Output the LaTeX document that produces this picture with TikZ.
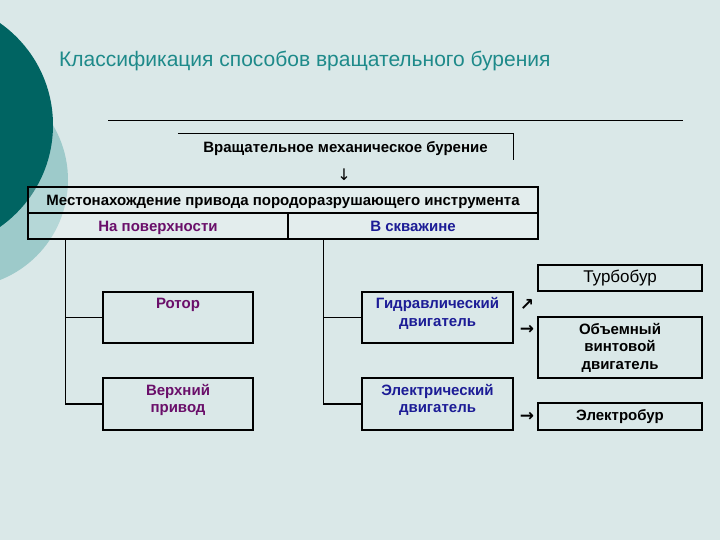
\documentclass[tikz,border=0pt]{standalone}
\usepackage{fontspec}
\setmainfont{Liberation Sans}
\newfontfamily\symfont{DejaVu Sans}
\usetikzlibrary{calc}
\definecolor{bgc}{HTML}{DAE8E8}
\definecolor{darkc}{HTML}{006462}
\definecolor{lightc}{HTML}{9DCACA}
\definecolor{titlec}{HTML}{1E8A8A}
\definecolor{purp}{HTML}{6A0F6A}
\definecolor{blu}{HTML}{1C1C96}
\tikzset{
  box/.style={draw=black, line width=1.2pt, inner sep=0pt, align=center,
    font=\bfseries\fontsize{15}{17.5}\selectfont},
  tbl/.style={box, fill=white, fill opacity=0.25, text opacity=1, text height=10.8pt, text depth=0pt},
  conn/.style={draw=black, line width=1.1pt},
  glyph/.style={inner sep=0pt, font=\symfont\bfseries\fontsize{17}{17}\selectfont},
  inlabel/.style={inner sep=0pt, align=center, font=\bfseries\fontsize{15}{17.5}\selectfont}
}
\begin{document}
\begin{tikzpicture}[x=1pt,y=-1pt]
\useasboundingbox (0,0) rectangle (720,540);
\fill[bgc] (0,0) rectangle (720,540);
\fill[lightc] (-39.5,180) circle (107.5pt);
\fill[darkc] (-71.5,125) circle (124.5pt);

% title
\node[anchor=base west, inner sep=0pt, text=titlec, font=\fontsize{21}{24}\selectfont] (title) at (59,67) {Классификация способов вращательного бурения};

% horizontal rule
\coordinate (hl1) at (108,120);
\coordinate (hl2) at (683,120);
\draw[line width=0.9pt] (hl1) -- (hl2);

% top partial box
\node[inlabel, minimum width=335pt, minimum height=26pt, text height=10.8pt, text depth=0pt] (mech) at (345.5,147) {Вращательное механическое бурение};
\draw[line width=1.2pt] (mech.north west) -- (mech.north east) -- (mech.south east);

\node[inner sep=0pt, font=\symfont\fontsize{16}{16}\selectfont] (down) at (344,175) {↓};

% location table
\node[tbl, minimum width=510pt, minimum height=26pt] (loc) at (283,200) {Местонахождение привода породоразрушающего инструмента};
\node[tbl, minimum width=260pt, minimum height=26pt, text=purp] (surf) at (158,226) {На поверхности};
\node[tbl, minimum width=250pt, minimum height=26pt, text=blu] (well) at (413,226) {В скважине};

% left branch
\node[box, minimum width=150pt, minimum height=51pt,
  label={[inlabel, text=purp, yshift=12.5pt]center:Ротор}] (rotor) at (178,317.5) {};
\node[box, minimum width=150pt, minimum height=52pt,
  label={[inlabel, text=purp, yshift=4pt]center:Верхний\\привод}] (top) at (178,404) {};

% right branch
\node[box, minimum width=151pt, minimum height=51pt,
  label={[inlabel, text=blu, yshift=4pt]center:Гидравлический\\двигатель}] (hyd) at (437.5,317.5) {};
\node[box, minimum width=151pt, minimum height=52pt,
  label={[inlabel, text=blu, yshift=4pt]center:Электрический\\двигатель}] (el) at (437.5,404) {};

% far right
\node[box, minimum width=164pt, minimum height=26pt, font=\fontsize{17}{19}\selectfont] (turbo) at (620,278) {Турбобур};
\node[box, minimum width=164pt, minimum height=61pt] (vint) at (620,347.5) {Объемный\\винтовой\\двигатель};
\node[box, minimum width=164pt, minimum height=27pt] (elb) at (620,416.5) {Электробур};

% arrow glyphs
\node[glyph] (a1) at (527,305) {↗};
\node[glyph] (a2) at (527,330) {→};
\node[glyph] (a3) at (527,417) {→};

% connectors
\coordinate (lt) at ($(surf.south west)+(38pt,0)$);
\coordinate (rt) at ($(well.south west)+(36pt,0)$);
\draw[conn] (lt) |- (rotor.west);
\draw[conn] (lt) |- (top.west);
\draw[conn] (rt) |- (hyd.west);
\draw[conn] (rt) |- (el.west);
\end{tikzpicture}
\end{document}
